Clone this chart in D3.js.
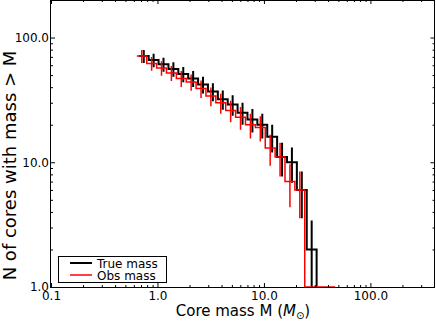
<!DOCTYPE html>
<html>
<head>
<meta charset="utf-8">
<script src="https://cdn.jsdelivr.net/npm/d3@7"></script>
<style>
  html, body { margin: 0; padding: 0; background: #fff; }
  svg { display: block; font-family: "DejaVu Sans", sans-serif; }
</style>
</head>
<body>
<svg id="chart" width="436" height="322"></svg>
<script>
// ---- data ----
const trueEdges  = [0.668, 0.827, 1.024, 1.268, 1.570, 1.944, 2.407, 2.980, 3.690, 4.569, 5.657, 7.004, 8.673, 10.74, 13.30, 16.46, 20.38, 25.24, 31.25];
const trueCounts = [71, 66, 61, 56, 51, 47, 42, 37, 32, 29, 25, 22, 20, 16, 11, 10, 6, 2];
const obsEdges   = [0.640, 0.792, 0.981, 1.214, 1.504, 1.862, 2.305, 2.854, 3.534, 4.376, 5.418, 6.708, 8.307, 10.29, 12.74, 15.77, 19.52, 24.17, 29.93, 37.06, 45.89];
const obsCounts  = [71, 62, 57, 52, 47, 44, 39, 34, 30, 26, 23, 20, 19, 13, 11, 7, 6, 1, 1, 1];
const xTicks = [0.1, 1, 10, 100];
const xTickLabels = ["0.1", "1.0", "10.0", "100.0"];
const yTicks = [1, 10, 100];
const yTickLabels = ["1.0", "10.0", "100.0"];
const xDomain = [0.1, 400];
const yDomain = [1, 200];
const legendLabels = ["True mass", "Obs mass"];

// ---- layout ----
const L = 51, R = 434.5, T = 0, B = 287;
const svg = d3.select("#chart");
const x = d3.scaleLog().domain(xDomain).range([L, R]);
const y = d3.scaleLog().domain(yDomain).range([B, T]);

svg.append("defs").append("clipPath").attr("id", "clip")
  .append("rect").attr("x", L).attr("y", T).attr("width", R - L).attr("height", B - T);

const plot = svg.append("g").attr("clip-path", "url(#clip)");

function yv(v) { return v > 0 ? y(v) : B + 10; }

function stepPath(edges, counts) {
  let d = "M" + x(edges[0]) + "," + yv(counts[0]);
  for (let i = 0; i < counts.length; i++) {
    d += "H" + x(edges[i + 1]);
    if (i + 1 < counts.length) d += "V" + yv(counts[i + 1]);
  }
  d += "V" + (B + 10);
  return d;
}

function drawSeries(edges, counts, color, w) {
  plot.append("path").attr("d", stepPath(edges, counts))
    .attr("fill", "none").attr("stroke", color).attr("stroke-width", w)
    .attr("stroke-linejoin", "miter");
  const bars = counts.map((c, i) => ({
    cx: Math.sqrt(edges[i] * edges[i + 1]), c: c,
    lo: c - Math.sqrt(c), hi: c + Math.sqrt(c)
  })).filter(d => d.lo > 0);
  plot.selectAll(null).data(bars).enter().append("line")
    .attr("x1", d => x(d.cx)).attr("x2", d => x(d.cx))
    .attr("y1", d => y(d.lo)).attr("y2", d => y(d.hi))
    .attr("stroke", color).attr("stroke-width", w);
}

drawSeries(trueEdges, trueCounts, "#000", 2);
drawSeries(obsEdges, obsCounts, "#ff0000", 1.5);

// ---- axes (ticks inside, all four sides) ----
function minorTicks(domain) {
  const out = [];
  for (let e = Math.floor(Math.log10(domain[0])); e <= Math.ceil(Math.log10(domain[1])); e++) {
    for (let m = 2; m <= 9; m++) {
      const v = m * Math.pow(10, e);
      if (v > domain[0] && v < domain[1]) out.push(v);
    }
  }
  return out;
}
const xMinor = minorTicks(xDomain), yMinor = minorTicks(yDomain);

function styleAxis(g) {
  g.select(".domain").remove();
  g.selectAll("line").attr("stroke", "#000").attr("stroke-width", 1);
  g.selectAll("text").attr("font-family", "DejaVu Sans").attr("font-size", 12).attr("fill", "#000");
}

// bottom
svg.append("g").attr("transform", `translate(0,${B})`)
  .call(d3.axisBottom(x).tickValues(xTicks).tickSize(-4).tickPadding(4.5)
    .tickFormat((d, i) => xTickLabels[i]))
  .call(styleAxis);
svg.append("g").attr("transform", `translate(0,${B})`)
  .call(d3.axisBottom(x).tickValues(xMinor).tickSize(-2).tickFormat(""))
  .call(styleAxis);
// top
svg.append("g").attr("transform", `translate(0,${T})`)
  .call(d3.axisTop(x).tickValues(xTicks).tickSize(-4).tickFormat(""))
  .call(styleAxis);
svg.append("g").attr("transform", `translate(0,${T})`)
  .call(d3.axisTop(x).tickValues(xMinor).tickSize(-2).tickFormat(""))
  .call(styleAxis);
// left
svg.append("g").attr("transform", `translate(${L},0)`)
  .call(d3.axisLeft(y).tickValues(yTicks).tickSize(-4).tickPadding(2)
    .tickFormat((d, i) => yTickLabels[i]))
  .call(styleAxis);
svg.append("g").attr("transform", `translate(${L},0)`)
  .call(d3.axisLeft(y).tickValues(yMinor).tickSize(-2).tickFormat(""))
  .call(styleAxis);
// right
svg.append("g").attr("transform", `translate(${R},0)`)
  .call(d3.axisRight(y).tickValues(yTicks).tickSize(-4).tickFormat(""))
  .call(styleAxis);
svg.append("g").attr("transform", `translate(${R},0)`)
  .call(d3.axisRight(y).tickValues(yMinor).tickSize(-2).tickFormat(""))
  .call(styleAxis);

// frame
svg.append("rect").attr("x", L - 0.5).attr("y", T + 0.5).attr("width", R - L + 0.5).attr("height", B - T)
  .attr("fill", "none").attr("stroke", "#000").attr("stroke-width", 1);

// ---- axis labels ----
const xl = svg.append("text").attr("x", 243).attr("y", 316).attr("text-anchor", "middle")
  .attr("font-size", 15).attr("fill", "#000");
xl.append("tspan").text("Core mass M (");
xl.append("tspan").attr("font-style", "italic").text("M");
xl.append("tspan").attr("font-size", 10).attr("dy", 3).text("\u2299");
xl.append("tspan").attr("dy", -3).text(")");

svg.append("text").attr("transform", "translate(15.5,165.5) rotate(-90)")
  .attr("text-anchor", "middle").attr("font-size", 18).attr("fill", "#000")
  .text("N of cores with mass > M");

// ---- legend ----
const lg = svg.append("g");
lg.append("rect").attr("x", 58.5).attr("y", 256.5).attr("width", 108).attr("height", 26)
  .attr("fill", "#fff").attr("stroke", "#000").attr("stroke-width", 1);
const legendColors = ["#000", "#ff0000"], legendWidths = [2, 1.5];
legendLabels.forEach((lab, i) => {
  const ly = 263 + i * 12;
  lg.append("line").attr("x1", 70).attr("x2", 92).attr("y1", ly).attr("y2", ly)
    .attr("stroke", legendColors[i]).attr("stroke-width", legendWidths[i]);
  lg.append("text").attr("x", 97).attr("y", ly + 4.5).attr("font-size", 12).attr("fill", "#000").text(lab);
});
</script>
</body>
</html>
